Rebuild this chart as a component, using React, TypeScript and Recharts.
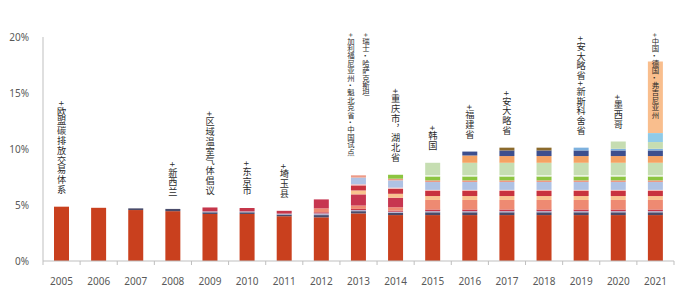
import React from 'react';
import { BarChart, Bar, XAxis, YAxis, ReferenceDot } from 'recharts';

// categories
const years = ['2005', '2006', '2007', '2008', '2009', '2010', '2011', '2012', '2013', '2014', '2015', '2016', '2017', '2018', '2019', '2020', '2021'];

// share of global emissions covered (%), stacked bottom to top
const euEts = [4.85, 4.75, 4.55, 4.45, 4.2, 4.2, 4.0, 3.9, 4.25, 4.1, 4.1, 4.1, 4.1, 4.1, 4.1, 4.1, 4.1];
const newZealand = [0, 0, 0.15, 0.2, 0.15, 0.15, 0.15, 0.2, 0.2, 0.2, 0.25, 0.25, 0.25, 0.25, 0.25, 0.25, 0.25];
const tokyoSaitama = [0, 0, 0, 0, 0.08, 0.08, 0.08, 0.15, 0.1, 0.1, 0.1, 0.1, 0.1, 0.1, 0.1, 0.1, 0.1];
const rggi = [0, 0, 0, 0, 0.35, 0.3, 0.25, 0.1, 0.1, 0.1, 0.15, 0.15, 0.15, 0.15, 0.15, 0.15, 0.15];
const california = [0, 0, 0, 0, 0, 0, 0, 0.35, 0.3, 0.3, 0.85, 0.85, 0.85, 0.85, 0.85, 0.85, 0.85];
const australia = [0, 0, 0, 0, 0, 0, 0, 0.8, 1.0, 0.85, 0, 0, 0, 0, 0, 0, 0];
const kazakhstan = [0, 0, 0, 0, 0, 0, 0, 0, 0.35, 0.35, 0.35, 0.35, 0.35, 0.35, 0.35, 0.35, 0.35];
const pilotsA = [0, 0, 0, 0, 0, 0, 0, 0, 0.45, 0.45, 0.45, 0.45, 0.45, 0.45, 0.45, 0.45, 0.45];
const switzerland = [0, 0, 0, 0, 0, 0, 0, 0, 0.1, 0.1, 0.1, 0.1, 0.1, 0.1, 0.1, 0.1, 0.1];
const pilotsB = [0, 0, 0, 0, 0, 0, 0, 0, 0.6, 0.65, 0.7, 0.7, 0.7, 0.7, 0.7, 0.7, 0.7];
const quebec = [0, 0, 0, 0, 0, 0, 0, 0, 0.2, 0.15, 0.15, 0.15, 0.15, 0.15, 0.15, 0.15, 0.15];
const chongqingHubei = [0, 0, 0, 0, 0, 0, 0, 0, 0, 0.35, 0.35, 0.35, 0.35, 0.35, 0.35, 0.35, 0.35];
const otherPilots = [0, 0, 0, 0, 0, 0, 0, 0, 0, 0, 0.12, 0.12, 0.12, 0.12, 0.12, 0.12, 0.12];
const korea = [0, 0, 0, 0, 0, 0, 0, 0, 0, 0, 1.1, 1.1, 1.1, 1.1, 1.1, 1.1, 1.1];
const fujian = [0, 0, 0, 0, 0, 0, 0, 0, 0, 0, 0, 0.65, 0.6, 0.6, 0.6, 0.6, 0.6];
const ontario = [0, 0, 0, 0, 0, 0, 0, 0, 0, 0, 0, 0.35, 0.5, 0.5, 0.5, 0.5, 0.5];
const massachusetts = [0, 0, 0, 0, 0, 0, 0, 0, 0, 0, 0, 0, 0.25, 0.25, 0, 0, 0];
const novaScotia = [0, 0, 0, 0, 0, 0, 0, 0, 0, 0, 0, 0, 0, 0, 0.25, 0.15, 0.15];
const mexico = [0, 0, 0, 0, 0, 0, 0, 0, 0, 0, 0, 0, 0, 0, 0, 0.65, 0.6];
const germany = [0, 0, 0, 0, 0, 0, 0, 0, 0, 0, 0, 0, 0, 0, 0, 0, 0.8];
const chinaNational = [0, 0, 0, 0, 0, 0, 0, 0, 0, 0, 0, 0, 0, 0, 0, 0, 6.4];

// annotations above bars (one string per vertical column)
const noteYears = ['2005', '2008', '2009', '2010', '2011', '2013', '2014', '2015', '2016', '2017', '2019', '2020', '2021'];
const noteTexts = [
  ['+欧盟碳排放交易体系'],
  ['+新西兰'],
  ['+区域温室气体倡议'],
  ['+东京市'],
  ['+埼玉县'],
  ['+加利福尼亚州•魁北克省•中国试点', '+瑞士•哈萨克斯坦'],
  ['+重庆市，湖北省'],
  ['+韩国'],
  ['+福建省'],
  ['+安大略省'],
  ['+安大略省+新斯科舍省'],
  ['+墨西哥'],
  ['+中国•德国•弗吉尼亚州'],
];

const yTicks = [0, 5, 10, 15, 20];

const series = [
  { key: 'euEts', values: euEts, color: '#C9401E' },
  { key: 'newZealand', values: newZealand, color: '#4A4C6B' },
  { key: 'tokyoSaitama', values: tokyoSaitama, color: '#B6B1CE' },
  { key: 'rggi', values: rggi, color: '#C5364A' },
  { key: 'california', values: california, color: '#EE8A72' },
  { key: 'australia', values: australia, color: '#C73650' },
  { key: 'kazakhstan', values: kazakhstan, color: '#F9C38F' },
  { key: 'pilotsA', values: pilotsA, color: '#C8333F' },
  { key: 'switzerland', values: switzerland, color: '#F4B8B4' },
  { key: 'pilotsB', values: pilotsB, color: '#AFC2E4' },
  { key: 'quebec', values: quebec, color: '#EE9A86' },
  { key: 'chongqingHubei', values: chongqingHubei, color: '#8CC540' },
  { key: 'otherPilots', values: otherPilots, color: '#EEF4E6' },
  { key: 'korea', values: korea, color: '#C6DEB2' },
  { key: 'fujian', values: fujian, color: '#F5A263' },
  { key: 'ontario', values: ontario, color: '#3D4F8E' },
  { key: 'massachusetts', values: massachusetts, color: '#8B6A2C' },
  { key: 'novaScotia', values: novaScotia, color: '#7DB1DE' },
  { key: 'mexico', values: mexico, color: '#C6DDB1' },
  { key: 'germany', values: germany, color: '#8FCBE8' },
  { key: 'chinaNational', values: chinaNational, color: '#F9BE8D' },
];

const data = years.map((year, i) => {
  const row: Record<string, any> = { year };
  series.forEach((s) => {
    row[s.key] = s.values[i];
  });
  return row;
});

const totals = years.map((_, i) => series.reduce((sum, s) => sum + s.values[i], 0));

const CHART_W = 691;
const CHART_H = 305;
const PLOT_TOP = 37;
const MARGIN = { top: PLOT_TOP, right: 17, left: 0, bottom: 14 };
const Y_AXIS_W = 43;
const BAND = (CHART_W - MARGIN.left - MARGIN.right - Y_AXIS_W) / years.length;
const AXIS_COLOR = '#BFBFBF';
const LABEL_COLOR = '#595959';
const FONT = '"Noto Sans", "Noto Sans CJK SC", sans-serif';
const CJK_FONT = '"Noto Sans CJK SC", sans-serif';

const isMark = (ch: string) => ch === '+' || ch === '•' || ch === '，';

// rough column length, used only to decide whether the note fits above its bar
function columnHeight(text: string) {
  return Array.from(text).reduce((h, ch) => h + (isMark(ch) ? 6 : 9.8), 0);
}

// vertical annotation text above the bar top; falls back to a tighter column from the plot top
function VerticalNote({ cx, cy, columns }: { cx: number; cy: number; columns: string[] }) {
  const bottom = cy - 12;
  const tallest = Math.max(...columns.map((c) => columnHeight(c)));
  const compact = bottom - tallest < PLOT_TOP - 4;
  return (
    <g>
      {columns.map((text, ci) => (
        <text
          key={ci}
          x={cx + (ci - (columns.length - 1) / 2) * 15}
          y={compact ? PLOT_TOP - 4 : bottom}
          textAnchor={compact ? 'start' : 'end'}
          fontSize={compact ? 7.4 : 9.2}
          letterSpacing={compact ? 0 : 0.6}
          fontFamily={CJK_FONT}
          fill="#2B2B2B"
          style={{ writingMode: 'vertical-rl' }}
        >
          {text}
        </text>
      ))}
    </g>
  );
}

function YearTick(props: any) {
  const { x, y, payload, index } = props;
  const half = BAND / 2;
  return (
    <g>
      <line x1={x - half} x2={x - half} y1={y} y2={y + 4} stroke={AXIS_COLOR} />
      {index === years.length - 1 && <line x1={x + half} x2={x + half} y1={y} y2={y + 4} stroke={AXIS_COLOR} />}
      <text x={x} y={y + 24} textAnchor="middle" fontSize={10} fontFamily={FONT} fill={LABEL_COLOR}>
        {payload.value}
      </text>
    </g>
  );
}

export default function App() {
  return (
    <div style={{ position: 'absolute', left: 0, top: 0, width: CHART_W, height: CHART_H, background: '#fff' }}>
      <BarChart width={CHART_W} height={CHART_H} data={data} margin={MARGIN} barSize={15}>
        <XAxis
          dataKey="year"
          interval={0}
          height={30}
          tickSize={0}
          tickMargin={0}
          tickLine={false}
          axisLine={{ stroke: AXIS_COLOR }}
          tick={<YearTick />}
        />
        <YAxis
          domain={[0, 20]}
          ticks={yTicks}
          width={Y_AXIS_W}
          tickFormatter={(v: number) => `${v}%`}
          axisLine={{ stroke: AXIS_COLOR }}
          tickLine={false}
          tickMargin={8}
          tick={{ fontSize: 10, fill: LABEL_COLOR, fontFamily: FONT }}
        />
        {series.map((s) => (
          <Bar key={s.key} dataKey={s.key} stackId="a" fill={s.color} isAnimationActive={false} />
        ))}
        {noteYears.map((yr, i) => (
          <ReferenceDot
            key={yr}
            x={yr}
            y={totals[years.indexOf(yr)]}
            r={0}
            ifOverflow="visible"
            shape={(p: any) => <VerticalNote cx={p.cx} cy={p.cy} columns={noteTexts[i]} />}
          />
        ))}
      </BarChart>
    </div>
  );
}
